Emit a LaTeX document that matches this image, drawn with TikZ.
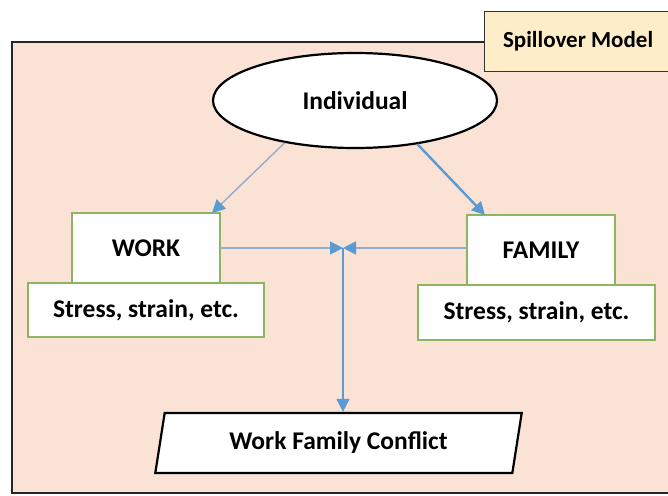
\documentclass[tikz,border=0pt]{standalone}
\usepackage{fontspec}
\setmainfont{Carlito}
\usepackage{tikz}
\usetikzlibrary{positioning}
\usetikzlibrary{shapes.geometric}
\usetikzlibrary{arrows.meta}
\definecolor{peach}{HTML}{FAE2D5}
\definecolor{sand}{HTML}{FDEDC8}
\definecolor{leaf}{HTML}{8DB461}
\definecolor{skyblue}{HTML}{5B9BD5}
\definecolor{greyblue}{HTML}{93ADCD}

\begin{document}
\begin{tikzpicture}
      [x=1pt,y=-1pt,font=\bfseries\fontsize{25.5}{28}\selectfont,
       box/.style={draw=leaf,line width=2pt,fill=white,outer sep=0pt},
       tip/.style={-{Triangle[length=13pt,width=13pt,color=skyblue]}}]
    \useasboundingbox (0,0) rectangle (668,495);
    \clip (0,0) rectangle (668,495);
    \draw[fill=peach,draw=black!85,line width=2.4pt] (12,42) rectangle (700,493);
    \node[draw=black!80,fill=sand,line width=1.2pt,anchor=north west,
          minimum width=187pt,minimum height=60pt,
          font=\bfseries\fontsize{23}{25}\selectfont] (tag) at (484,11) {Spillover Model};

    \node[ellipse,draw,line width=2.2pt,fill=white,minimum width=284pt,minimum height=95pt]
          (indiv) at (355,100.5) {Individual};
    \node[box,minimum width=148pt,minimum height=70pt] (work) at (146,248) {WORK};
    \node[box,minimum width=236pt,minimum height=54pt] (workload) [below=0pt of work] {Stress, strain, etc.};
    \node[box,minimum width=148pt,minimum height=70pt] (family) at (541,250) {FAMILY};
    \node[box,minimum width=237pt,minimum height=55pt,xshift=-4.5pt] (homeload) [below=0pt of family] {Stress, strain, etc.};
    \node[trapezium,trapezium left angle=78,trapezium right angle=102,trapezium stretches=true,
          draw,line width=2.2pt,fill=white,minimum width=367pt,minimum height=60pt]
          (wfc) at (338.5,443) {Work Family Conflict};
    \coordinate (meet) at (343,248);

    \path [tip] (indiv.211) edge [draw=greyblue,line width=1.4pt] ([xshift=-8pt]work.north east)
          (indiv.325) edge [draw=skyblue,line width=2.4pt] ([xshift=18pt]family.north west)
          (work.east) edge [draw=greyblue,line width=1.8pt] (meet)
          (family.west |- meet) edge [draw=greyblue,line width=1.8pt] (meet)
          (meet) edge [draw=skyblue,line width=1.4pt] (meet |- wfc.north);
\end{tikzpicture}
\end{document}
